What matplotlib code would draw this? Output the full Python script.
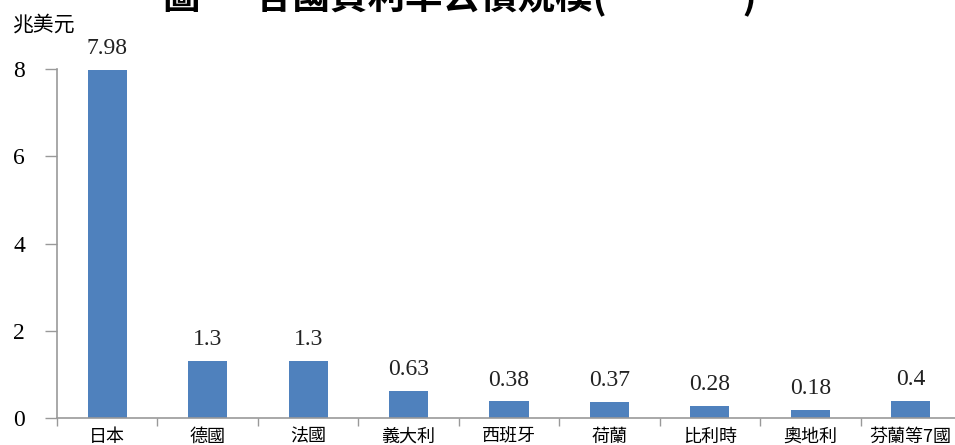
import matplotlib
matplotlib.use("Agg")
import matplotlib.pyplot as plt

plt.rcParams['font.family'] = ['Liberation Serif', 'Noto Sans CJK TC', 'DejaVu Sans']

countries = ["日本", "德國", "法國", "義大利", "西班牙", "荷蘭", "比利時", "奧地利", "芬蘭等7國"]
values = [7.98, 1.3, 1.3, 0.63, 0.38, 0.37, 0.28, 0.18, 0.4]
labels = ["7.98", "1.3", "1.3", "0.63", "0.38", "0.37", "0.28", "0.18", "0.4"]
yticks = [0, 2, 4, 6, 8]

W, H = 955, 445
fig = plt.figure(figsize=(W / 100, H / 100), dpi=100)
ax = fig.add_axes([57 / W, (H - 418) / H, (961 - 57) / W, (418 - 69) / H])

x = list(range(len(countries)))
ax.bar(x, values, width=0.39, color="#4F81BD", zorder=2)

for xi, v, t in zip(x, values, labels):
    ax.text(xi, v + 0.25, t, ha="center", va="bottom", fontsize=17, color="#222222")

ax.set_xlim(-0.5, len(countries) - 0.5)
ax.set_ylim(0, 8)
ax.set_yticks(yticks)
ax.set_yticklabels([str(t) for t in yticks], fontsize=17)

ax.set_xticks(x)
ax.set_xticklabels(countries, fontsize=13, family=['Noto Sans CJK TC', 'DejaVu Sans'])
ax.tick_params(axis="x", length=0, pad=7)
# category separators below the axis
ax.set_xticks([i + 0.5 for i in range(-1, len(countries))], minor=True)
ax.tick_params(axis="x", which="minor", length=6, color="#999999", width=1)
ax.tick_params(axis="y", length=9, color="#999999", width=1, pad=14)

for s in ["top", "right"]:
    ax.spines[s].set_visible(False)
for s in ["left", "bottom"]:
    ax.spines[s].set_color("#999999")
    ax.spines[s].set_linewidth(1.2)

fig.text(12 / W, (H - 25) / H, "兆美元", fontsize=15, ha="left", va="center",
         family=['Noto Sans CJK TC', 'DejaVu Sans'])

# title cut off at the top edge of the picture
fig.text(163 / W, (H + 4) / H, "圖一  各國負利率公債規模(                )", fontsize=27,
         fontweight="bold", ha="left", va="center",
         family=['Noto Sans CJK TC', 'DejaVu Sans'])

fig.savefig("out.png", dpi=100)
